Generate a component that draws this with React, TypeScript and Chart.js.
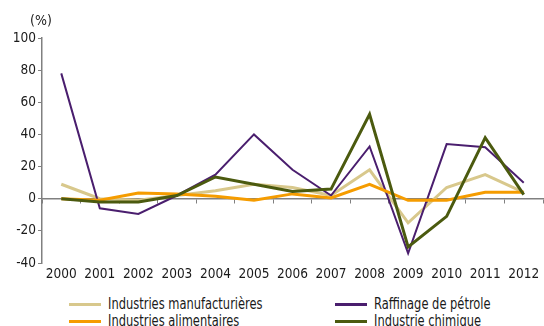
import React, { useEffect, useRef } from "react";
import { Chart, registerables } from "chart.js";

Chart.register(...registerables);

const years = ["2000", "2001", "2002", "2003", "2004", "2005", "2006", "2007", "2008", "2009", "2010", "2011", "2012"];
const manufacturieres = [9, 0, -1, 2, 5, 9, 7, 2, 18, -15, 7, 15, 4];
const raffinage = [78, -6, -9.5, 2, 15, 40, 18, 2, 32.5, -34, 34, 32, 10];
const alimentaires = [0, -1, 3.5, 3, 1.5, -1, 3, 0.5, 9, -1, -1, 4, 4];
const chimique = [0, -2, -2, 2, 13.5, 9, 4.5, 6, 52.5, -30, -11, 38, 2.5];

const seriesNames = ["Industries manufacturières", "Industries alimentaires", "Raffinage de pétrole", "Industrie chimique"];
const seriesColors = ["#D8C88C", "#F59C00", "#4A1E6E", "#4B5A0F"];

const yMin = -40;
const yMax = 100;
const yStep = 20;
const unitLabel = "(%)";

const FONT = "'DejaVu Sans Condensed', 'Liberation Sans Narrow', 'Liberation Sans', sans-serif";
const GRAY = "#808080";

export default function App() {
  const ref = useRef<HTMLCanvasElement | null>(null);

  useEffect(() => {
    if (!ref.current) return;
    const chart = new Chart(ref.current, {
      type: "line",
      data: {
        labels: years,
        datasets: [
          { label: seriesNames[3], data: chimique, borderColor: seriesColors[3], borderWidth: 3 },
          { label: seriesNames[1], data: alimentaires, borderColor: seriesColors[1], borderWidth: 3 },
          { label: seriesNames[2], data: raffinage, borderColor: seriesColors[2], borderWidth: 2 },
          { label: seriesNames[0], data: manufacturieres, borderColor: seriesColors[0], borderWidth: 3 },
        ].map((d) => ({ ...d, pointRadius: 0, tension: 0, fill: false, borderJoinStyle: "miter" as const })),
      },
      options: {
        animation: false,
        responsive: false,
        maintainAspectRatio: false,
        layout: { padding: { top: 38, right: 1, left: 0, bottom: 0 } },
        plugins: { legend: { display: false }, tooltip: { enabled: false } },
        scales: {
          x: {
            type: "category",
            position: "bottom",
            offset: true,
            grid: { display: false, drawTicks: false },
            border: { display: false },
            ticks: { color: "#1a1a1a", font: { family: FONT, size: 13.5 }, padding: 3, maxRotation: 0, autoSkip: false },
            afterFit: (s: any) => { s.height = 27; },
          },
          x2: {
            type: "category",
            axis: "x",
            position: { y: 0 },
            offset: true,
            grid: { drawOnChartArea: false, tickLength: 4, color: GRAY, lineWidth: 1, offset: true },
            border: { color: GRAY, width: 1.5 },
            ticks: { display: false },
          },
          y: {
            type: "linear",
            min: yMin,
            max: yMax,
            ticks: { stepSize: yStep, color: "#1a1a1a", font: { family: FONT, size: 13.5 }, padding: 2 },
            grid: { drawOnChartArea: false, tickLength: 4, color: GRAY },
            border: { color: GRAY, width: 1.5 },
            afterFit: (s: any) => { s.width = 42; },
          },
        },
      } as any,
    });
    return () => chart.destroy();
  }, []);

  const legendItems = [
    { name: seriesNames[0], color: seriesColors[0], left: 69, top: 304 },
    { name: seriesNames[1], color: seriesColors[1], left: 69, top: 321 },
    { name: seriesNames[2], color: seriesColors[2], left: 335, top: 304 },
    { name: seriesNames[3], color: seriesColors[3], left: 335, top: 321 },
  ];

  return (
    <div style={{ position: "absolute", left: 0, top: 0, width: 544, height: 326, overflow: "hidden", background: "#fff" }}>
      <canvas ref={ref} width={544} height={290} style={{ position: "absolute", left: 0, top: 0, width: 544, height: 290 }} />
      <div style={{ position: "absolute", left: 30, top: 12, fontFamily: FONT, fontSize: 14, color: "#1a1a1a", lineHeight: "16px" }}>{unitLabel}</div>
      {legendItems.map((it) => (
        <div key={it.name} style={{ position: "absolute", left: it.left, top: it.top - 10, height: 20, display: "flex", alignItems: "center", whiteSpace: "nowrap" }}>
          <div style={{ width: 32, height: 3, background: it.color, marginRight: 7 }} />
          <span style={{ fontFamily: FONT, fontSize: 15, color: "#1a1a1a", lineHeight: "20px", display: "inline-block", transform: "scaleX(0.85)", transformOrigin: "left center" }}>{it.name}</span>
        </div>
      ))}
    </div>
  );
}
